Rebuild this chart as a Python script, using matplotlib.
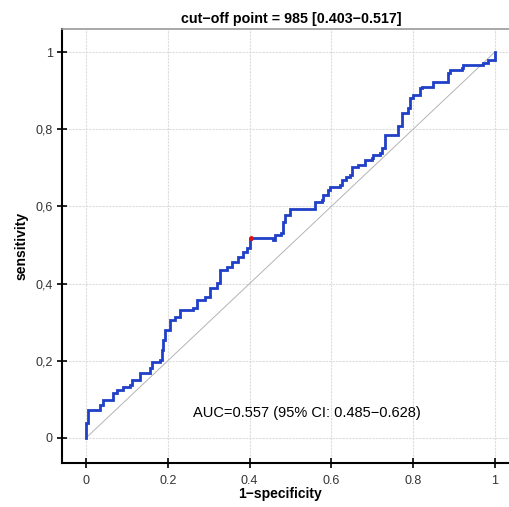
import matplotlib
matplotlib.use("Agg")
import matplotlib.pyplot as plt
from matplotlib.ticker import FixedLocator

plt.rcParams['font.family'] = ['Liberation Sans', 'DejaVu Sans']

# ROC curve (1-specificity, sensitivity)
fpr = [0.0, 0.0, 0.004, 0.018, 0.034, 0.042, 0.067, 0.075, 0.091, 0.108, 0.112,
       0.132, 0.156, 0.161, 0.181, 0.185, 0.189, 0.193, 0.205, 0.218, 0.230,
       0.262, 0.271, 0.291, 0.303, 0.320, 0.328, 0.344, 0.356, 0.372, 0.385,
       0.393, 0.401, 0.403, 0.458, 0.462, 0.478, 0.482, 0.487, 0.499, 0.552,
       0.560, 0.576, 0.580, 0.592, 0.597, 0.621, 0.625, 0.637, 0.645, 0.650,
       0.666, 0.678, 0.682, 0.699, 0.702, 0.719, 0.723, 0.731, 0.731, 0.760,
       0.764, 0.772, 0.772, 0.788, 0.792, 0.800, 0.817, 0.821, 0.845, 0.849,
       0.882, 0.886, 0.890, 0.919, 0.922, 0.963, 0.971, 0.984, 1.0, 1.0]
tpr = [0.0, 0.040, 0.073, 0.073, 0.085, 0.098, 0.116, 0.124, 0.133, 0.137, 0.150,
       0.168, 0.181, 0.198, 0.202, 0.228, 0.254, 0.280, 0.306, 0.314, 0.332,
       0.336, 0.358, 0.366, 0.388, 0.401, 0.435, 0.444, 0.457, 0.470, 0.483,
       0.491, 0.515, 0.517, 0.513, 0.526, 0.530, 0.560, 0.578, 0.592, 0.592,
       0.612, 0.617, 0.630, 0.642, 0.651, 0.655, 0.668, 0.677, 0.681, 0.703,
       0.707, 0.707, 0.720, 0.725, 0.733, 0.738, 0.751, 0.759, 0.785, 0.785,
       0.807, 0.811, 0.841, 0.854, 0.880, 0.889, 0.906, 0.910, 0.910, 0.923,
       0.923, 0.945, 0.953, 0.958, 0.966, 0.966, 0.971, 0.979, 0.979, 1.0]

cutoff_x = 0.403
cutoff_y = 0.517

x_ticks = [0, 0.2, 0.4, 0.6, 0.8, 1]
x_labels = ['0', '0.2', '0.4', '0.6', '0.8', '1']
y_ticks = [0, 0.2, 0.4, 0.6, 0.8, 1]
y_labels = ['0', '0,2', '0,4', '0,6', '0,8', '1']

title = 'cut\u2212off point = 985 [0.403\u22120.517]'
auc_text = 'AUC=0.557 (95% CI: 0.485\u22120.628)'

fig = plt.figure(figsize=(5.10, 5.07), dpi=100)
ax = fig.add_axes([0.1216, 0.0868, 0.8784, 0.856])

ax.plot([0, 1], [0, 1], color='#b4b4b4', lw=0.7, zorder=2)
ax.step(fpr, tpr, where='post', color='#2040c8', lw=2.0, zorder=3,
        solid_joinstyle='miter')
ax.plot([cutoff_x], [cutoff_y], 'o', color='#e01010', ms=2.5, zorder=4)

ax.set_xlim(-0.0587, 1.037)
ax.set_ylim(-0.0648, 1.0596)
ax.xaxis.set_major_locator(FixedLocator(x_ticks))
ax.yaxis.set_major_locator(FixedLocator(y_ticks))
ax.set_xticklabels(x_labels)
ax.set_yticklabels(y_labels)
ax.grid(True, color='#dcdcdc', lw=0.8, ls=(0, (2, 1)))
ax.set_axisbelow(True)

ax.tick_params(direction='inout', length=7, width=1.2, labelsize=9,
               colors='black', pad=3)
ax.tick_params(axis='x', labelcolor='#333333', pad=5)
ax.tick_params(axis='y', labelcolor='#333333')
ax.spines['left'].set_linewidth(1.5)
ax.spines['bottom'].set_linewidth(1.5)
ax.spines['top'].set_color('#999999')
ax.spines['top'].set_linewidth(1.2)
ax.spines['right'].set_visible(False)

ax.set_xlabel('1\u2212specificity', fontsize=10, fontweight='bold')
ax.xaxis.set_label_coords(0.487, -0.071, transform=ax.transAxes)
ax.xaxis.label.set_va('center')
ax.set_ylabel('sensitivity', fontsize=10, fontweight='bold', labelpad=5)
ax.set_title(title, fontsize=10.3, fontweight='bold', pad=4, x=0.512)
ax.text(0.262, 0.065, auc_text, fontsize=10.5, va='center', ha='left')

fig.savefig('out.png', dpi=100)
